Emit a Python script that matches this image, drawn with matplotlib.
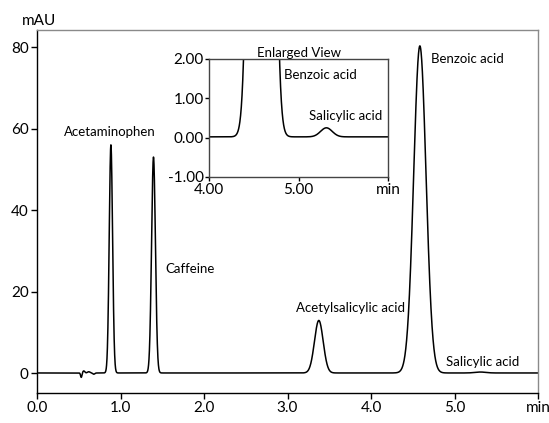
import numpy as np
import matplotlib
matplotlib.use("Agg")
from matplotlib import pyplot as plt

plt.rcParams['font.family'] = ['Lato', 'DejaVu Sans']

# peak table (retention time in min, height in mAU, sigma in min)
peak_names = ["Acetaminophen", "Caffeine", "Acetylsalicylic acid", "Benzoic acid", "Salicylic acid"]
peak_times = [0.885, 1.395, 3.375, 4.585, 5.31]
peak_heights = [56.0, 53.0, 12.9, 80.3, 0.23]
peak_sigmas = [0.020, 0.023, 0.052, 0.074, 0.065]

# small baseline disturbance around injection
dist_times = [0.53, 0.56, 0.62, 0.68]
dist_heights = [-1.1, 0.5, 0.3, -0.3]
dist_sigmas = [0.008, 0.012, 0.015, 0.012]

baseline_offset = 0.02

t = np.linspace(0.0, 6.0, 6001)
signal = np.zeros_like(t) + baseline_offset
for rt, h, s in zip(peak_times + dist_times, peak_heights + dist_heights, peak_sigmas + dist_sigmas):
    signal += h * np.exp(-0.5 * ((t - rt) / s) ** 2)

fig = plt.figure(figsize=(5.49, 4.23), dpi=100)
ax = fig.add_axes([0.0674, 0.0709, 0.9126, 0.858])
ax.plot(t, signal, color="black", lw=1.1)
ax.set_xlim(0, 6.0)
ax.set_ylim(-4.9, 84.2)
ax.set_xticks([0, 1, 2, 3, 4, 5, 6])
ax.set_xticklabels(["0.0", "1.0", "2.0", "3.0", "4.0", "5.0", "min"])
ax.set_yticks([0, 20, 40, 60, 80])
ax.tick_params(labelsize=11, length=4, width=1, color="black", pad=2)
ax.spines["top"].set_color("#8a8a8a")
ax.spines["right"].set_color("#8a8a8a")
for sp in ax.spines.values():
    sp.set_linewidth(1)
ax.text(-0.03, 1.005, "mAU", transform=ax.transAxes, fontsize=11, ha="left", va="bottom")

# peak labels (main view)
lab_x = [0.874, 1.83, 3.76, 5.15, 5.34]
lab_y = [59.2, 25.6, 16.0, 77.1, 2.7]
for name, x, y in zip(peak_names, lab_x, lab_y):
    ax.text(x, y, name, fontsize=9.5, ha="center", va="center")

# enlarged view
axi = fig.add_axes([0.381, 0.5816, 0.326, 0.279])
axi.plot(t, signal, color="black", lw=1.1)
axi.set_xlim(4.0, 6.0)
axi.set_ylim(-1.0, 2.0)
axi.set_xticks([4, 5, 6])
axi.set_xticklabels(["4.00", "5.00", "min"])
axi.set_yticks([-1, 0, 1, 2])
axi.set_yticklabels(["-1.00", "0.00", "1.00", "2.00"])
axi.tick_params(labelsize=11, length=3, width=1, pad=1)
for sp in axi.spines.values():
    sp.set_linewidth(1)
    sp.set_color("#444444")
axi.set_title("Enlarged View", fontsize=9.5, pad=1)
axi.text(5.24, 1.59, "Benzoic acid", fontsize=9.5, ha="center", va="center")
axi.text(5.53, 0.56, "Salicylic acid", fontsize=9.5, ha="center", va="center")

fig.savefig("out.png", dpi=100)
